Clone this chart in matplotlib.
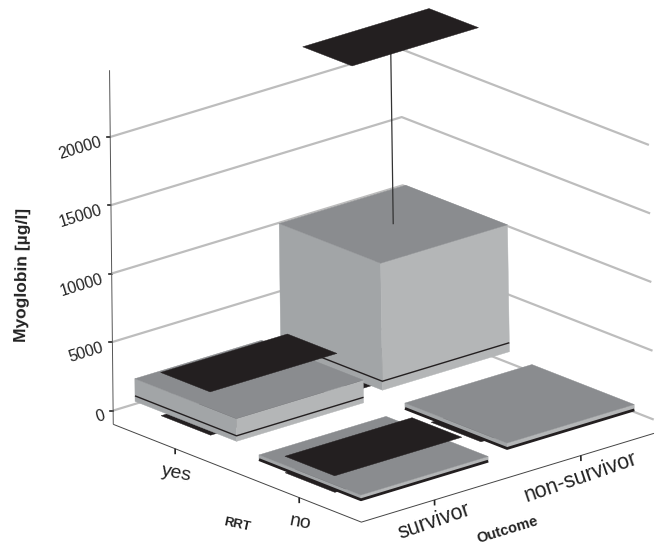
#!/usr/bin/env python3
import numpy as np
import matplotlib
matplotlib.use('Agg')
import matplotlib.pyplot as plt
from matplotlib.patches import Polygon

plt.rcParams['font.family'] = ['Liberation Sans', 'DejaVu Sans']

# cells in back to front drawing order
outcome = ['survivor', 'non-survivor']
rrt = ['no', 'yes']
cell_outcome = [1, 1, 0, 0]
cell_rrt = [1, 0, 1, 0]
whisker_low = [500, 300, 450, -150]
box_low = [1250, 530, 750, 30]
median = [1900, 560, 1150, 60]
box_high = [10500, 950, 2400, 400]
whisker_high = [24200, np.nan, 3600, 1050]

z_ticks = [0, 5000, 10000, 15000, 20000]
Z_MIN = -1000
Z_TOP = 24900

TOP = '#8a8c8f'
LEFT = '#a2a5a7'
RIGHT = '#b4b6b7'
BLACK = '#231f20'
GRID = '#bdbdbd'

# calibration of the 3d scale: (outcome, rrt, z) -> image pixel
anchors = [
    ((0, 2, Z_MIN), (114, 425)), ((0, 0, Z_MIN), (362, 521)), ((2, 0, Z_MIN), (655, 437)),
    ((0, 2, 0), (113, 411)), ((0, 2, 20000), (109, 137)),
    ((2, 0, 0), (653, 418)), ((2, 0, 20000), (648, 144)),
    ((2, 2, 0), (403, 320)), ((2, 2, 20000), (403, 50)),
]


def fit_camera(pairs):
    rows, rhs = [], []
    for (x, y, z), (u, v) in pairs:
        z = z / 10000
        rows.append([x, y, z, 1, 0, 0, 0, 0, -u * x, -u * y, -u * z])
        rows.append([0, 0, 0, 0, x, y, z, 1, -v * x, -v * y, -v * z])
        rhs += [u, v]
    p = np.linalg.lstsq(np.array(rows, float), np.array(rhs, float), rcond=None)[0]
    return np.append(p, 1).reshape(3, 4)


CAM = fit_camera(anchors)


def proj(x, y, z):
    u, v, w = CAM @ np.array([x, y, z / 10000, 1.0])
    return u / w, v / w


fig = plt.figure(figsize=(6.56, 5.46), dpi=100)
ax = fig.add_axes([0, 0, 1, 1])
ax.set_xlim(0, 656)
ax.set_ylim(546, 0)
ax.axis('off')

# painter's algorithm: everything stacks in the order it is drawn
order = [1]


def next_z():
    order[0] += 1
    return order[0]


def line(pts, **kw):
    xy = np.array([proj(*p) for p in pts])
    ax.plot(xy[:, 0], xy[:, 1], solid_capstyle='butt', zorder=next_z(), **kw)


def face(pts, color, lw=0.3):
    ax.add_patch(Polygon([proj(*p) for p in pts], closed=True, fc=color, ec=color, lw=lw, zorder=next_z()))


def plate(x0, x1, y0, y1, z):
    face([(x0, y0, z), (x1, y0, z), (x1, y1, z), (x0, y1, z)], BLACK)


# back walls
for z in z_ticks:
    line([(0, 2, z), (2, 2, z), (2, 0, z)], color=GRID, lw=1.6)

# axes
line([(0, 2, Z_TOP), (0, 2, Z_MIN)], color='#555555', lw=0.7)
line([(0, 2, Z_MIN), (0, 0, Z_MIN), (2, 0, Z_MIN)], color='#444444', lw=0.7)

for z in z_ticks:
    u, v = proj(0, 2, z)
    ax.plot([u - 3, u], [v, v], color='#222222', lw=1.2)
    ax.text(u - 9, v + 5, f'{z}', ha='right', va='center', rotation=17,
            rotation_mode='anchor', fontsize=11.5, color='#222222')

for i, label in enumerate(rrt):
    line([(0, i + 0.5, Z_MIN), (0, i + 0.5, Z_MIN - 400)], color='#222222', lw=1.2)
    u, v = proj(0, i + 0.5, Z_MIN)
    ax.text(u + 1, v + 25, label, ha='center', va='center', rotation=-11, fontsize=14, color='#222222')

for i, label in enumerate(outcome):
    line([(i + 0.5, 0, Z_MIN), (i + 0.5, 0, Z_MIN - 400)], color='#222222', lw=1.2)
    u, v = proj(i + 0.5, 0, Z_MIN)
    ax.text(u, v + 22, label, ha='center', va='center', rotation=19, fontsize=15.5, color='#222222')

ax.text(23, 275, 'Myoglobin [µg/l]', ha='center', va='center', rotation=89,
        fontsize=12.5, fontweight='bold', color='#222222')
ax.text(237, 525, 'RRT', ha='center', va='center', rotation=-12, fontsize=9.5, fontweight='bold', color='#222222')
ax.text(508, 530, 'Outcome', ha='center', va='center', rotation=17, fontsize=10.5, fontweight='bold', color='#222222')

# boxes
HALF_X = 0.435
HALF_Y = 0.41
PLATE_Y = 0.2
for i in range(len(box_high)):
    cx = cell_outcome[i] + 0.51
    cy = cell_rrt[i] + 0.5
    x0, x1 = cx - HALF_X, cx + HALF_X
    y0, y1 = cy - HALF_Y, cy + HALF_Y
    low, high, med = box_low[i], box_high[i], median[i]

    plate(x0, x1, cy - PLATE_Y, cy + PLATE_Y, whisker_low[i])
    face([(x0, y0, low), (x0, y1, low), (x0, y1, high), (x0, y0, high)], LEFT)
    face([(x0, y0, low), (x1, y0, low), (x1, y0, high), (x0, y0, high)], RIGHT)
    face([(x0, y0, high), (x1, y0, high), (x1, y1, high), (x0, y1, high)], TOP)
    line([(x0, y1, med), (x0, y0, med), (x1, y0, med)], color=BLACK,
         lw=1.0 if high - low > 1000 else 2.0)

    if not np.isnan(whisker_high[i]):
        line([(cx, cy, high), (cx, cy, whisker_high[i])], color='#333333', lw=0.9)
        plate(x0, x1, cy - PLATE_Y, cy + PLATE_Y, whisker_high[i])

fig.savefig('out.png', dpi=100)
